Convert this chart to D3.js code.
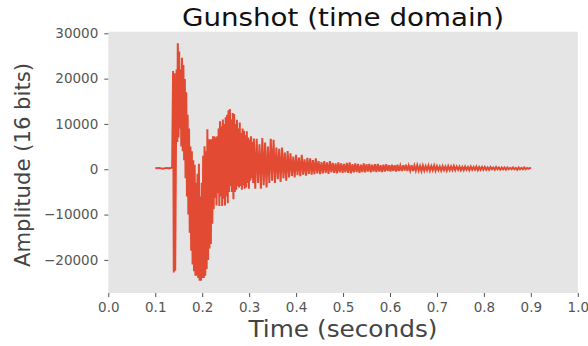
<!DOCTYPE html>
<html>
<head>
<meta charset="utf-8">
<script src="https://cdn.jsdelivr.net/npm/d3@7"></script>
<style>
  body { margin: 0; background: #ffffff; }
  text { font-family: "DejaVu Sans", sans-serif; }
</style>
</head>
<body>
<div id="chart"></div>
<script>
var width = 588
var height = 346

var chartTitle = "Gunshot (time domain)"
var xLabel = "Time (seconds)"
var yLabel = "Amplitude (16 bits)"

var xTicks = [0.0, 0.1, 0.2, 0.3, 0.4, 0.5, 0.6, 0.7, 0.8, 0.9, 1.0]
var yTicks = [-20000, -10000, 0, 10000, 20000, 30000]

// [time in seconds, amplitude] (peaks and troughs)
var samples = [
  [0.100, 200], [0.108, 300], [0.116, 100], [0.124, 300], [0.130, 200], [0.136, 400],
  [0.1380, 21700], [0.1395, -22800], [0.1410, 21200], [0.1425, -22400], [0.1440, 3000],
  [0.1455, 22000], [0.1470, 6000], [0.1480, 27800], [0.1495, 7000], [0.1510, 26000],
  [0.1525, 9000], [0.1540, 22000], [0.1555, 5000], [0.1570, 24600], [0.1585, 4000],
  [0.1600, 23000], [0.1615, 2000], [0.1630, 19900], [0.1645, -2000], [0.1660, 17000],
  [0.1675, -6000], [0.1690, 12000], [0.1705, -10000], [0.1720, 9000], [0.1735, -14000],
  [0.1750, 5000], [0.1765, -18000], [0.1780, 4000], [0.1795, -21000], [0.1810, 2000],
  [0.1825, -22500], [0.1840, 1000], [0.1855, -23500], [0.1870, -3000], [0.1885, -23500],
  [0.1900, -1000], [0.1915, -24000], [0.1930, 1200], [0.1945, -24600], [0.1960, -6000],
  [0.1975, -24600], [0.1990, -3000], [0.2005, -24000], [0.2020, 3000], [0.2035, -24000],
  [0.2050, 5100], [0.2065, -23500], [0.2080, 4000], [0.2095, -22000], [0.2110, 8800],
  [0.2125, -20000], [0.2140, 6600], [0.2155, -17500], [0.2170, 6600], [0.2185, -16500],
  [0.2200, 6600], [0.2215, -12000], [0.2230, 7300], [0.2245, -8800], [0.2260, 7300],
  [0.2275, -6300], [0.2290, 7000], [0.2305, -8000], [0.2320, 7300], [0.2335, -5300],
  [0.2350, 9000], [0.2365, -8100], [0.2380, 10600], [0.2395, -6000], [0.2410, 9500],
  [0.2425, -8100], [0.2440, 11000], [0.2455, -6500], [0.2470, 10000], [0.2485, -8000],
  [0.2500, 11500], [0.2515, -6000], [0.2530, 12000], [0.2545, -7500], [0.2560, 13000],
  [0.2575, -5000], [0.2590, 13300], [0.2605, -3700], [0.2620, 11000], [0.2635, -5000],
  [0.2650, 12400], [0.2665, -6600], [0.2680, 12200], [0.2695, -5000], [0.2710, 10000],
  [0.2725, -4500], [0.2740, 10900], [0.2755, -3700], [0.2770, 9000], [0.2785, -4000],
  [0.2800, 10300], [0.2815, -3700], [0.2830, 8000], [0.2845, -4500], [0.2860, 9000],
  [0.2875, -3500], [0.2890, 8500], [0.2905, -4300], [0.2920, 7500], [0.2935, -4000],
  [0.2950, 8400], [0.2965, -3000], [0.2980, 7000], [0.2995, -4300], [0.3010, 6500],
  [0.3025, -2500], [0.3040, 7300], [0.3055, -2000], [0.3070, 6000], [0.3085, -3000],
  [0.310, 6800], [0.313, -4300], [0.316, 6700], [0.319, -3000], [0.322, 5500],
  [0.325, -4300], [0.328, 6900], [0.331, -3500], [0.334, 5900], [0.337, -4000],
  [0.340, 5000], [0.343, -3000], [0.346, 6700], [0.349, -2500], [0.352, 6500],
  [0.355, -3000], [0.358, 4800], [0.361, -2200], [0.364, 4500], [0.367, -2800],
  [0.370, 4800], [0.373, -2000], [0.376, 3700], [0.379, -2500], [0.382, 4000],
  [0.385, -1800], [0.388, 3500], [0.391, -1500], [0.394, 2800], [0.397, -1800],
  [0.400, 3200], [0.403, -1300], [0.406, 2600], [0.409, -1500], [0.412, 3200],
  [0.415, -1200], [0.418, 2200], [0.421, -1400], [0.424, 2500], [0.427, -1000],
  [0.430, 2400], [0.433, -1200], [0.436, 2000], [0.439, -1100], [0.442, 2400],
  [0.445, -900], [0.448, 1800], [0.451, -1100], [0.454, 1600], [0.457, -900],
  [0.460, 1800], [0.463, -800], [0.466, 1500], [0.469, -1000], [0.472, 1800],
  [0.475, -700], [0.478, 1400], [0.481, -800], [0.484, 1300], [0.487, -900],
  [0.490, 1500], [0.493, -700], [0.496, 1300], [0.499, -800],
  [0.502, 1200], [0.505, -700], [0.508, 1400], [0.511, -800], [0.514, 1500],
  [0.517, -900], [0.520, 1100], [0.523, -700], [0.526, 1300], [0.529, -600],
  [0.532, 1200], [0.535, -800], [0.538, 1000], [0.541, -600], [0.544, 1300],
  [0.547, -700], [0.550, 1100], [0.553, -500], [0.556, 1200], [0.559, -700],
  [0.562, 1000], [0.565, -500], [0.568, 1100], [0.571, -600], [0.574, 1200],
  [0.577, -500], [0.580, 900], [0.583, -600], [0.586, 1000], [0.589, -500],
  [0.592, 1100], [0.595, -400], [0.598, 900], [0.601, -500], [0.604, 1000],
  [0.607, -400], [0.610, 900], [0.613, -500], [0.616, 1000], [0.619, -400],
  [0.622, 800], [0.625, -400], [0.628, 900], [0.631, -300], [0.634, 1000],
  [0.637, -400], [0.640, 800], [0.643, -300], [0.646, 900], [0.649, -400],
  [0.652, 800], [0.655, -300], [0.658, 900], [0.661, -300], [0.664, 700],
  [0.667, -400], [0.670, 800], [0.673, -300], [0.676, 700], [0.679, -200],
  [0.682, 800], [0.685, -300], [0.688, 700], [0.691, -200], [0.694, 800],
  [0.697, -300], [0.700, 700], [0.703, -200], [0.706, 600], [0.709, -300],
  [0.712, 700], [0.715, -200], [0.718, 600], [0.721, -300], [0.724, 700],
  [0.727, -200], [0.730, 600], [0.733, -200], [0.736, 700], [0.739, -200],
  [0.742, 600], [0.745, -100], [0.748, 600], [0.751, -200], [0.754, 500],
  [0.757, -200], [0.760, 600], [0.763, -100], [0.766, 500], [0.769, -200],
  [0.772, 600], [0.775, -100], [0.778, 500], [0.781, -100], [0.784, 600],
  [0.787, -200], [0.790, 500], [0.793, -100], [0.796, 500], [0.799, -100],
  [0.802, 500], [0.805, -100], [0.808, 400], [0.811, -100], [0.814, 500],
  [0.817, 0], [0.820, 400], [0.823, -100], [0.826, 500], [0.829, 0],
  [0.832, 400], [0.835, -100], [0.838, 400], [0.841, 0], [0.844, 400],
  [0.847, -100], [0.850, 400], [0.853, 0], [0.856, 300], [0.859, 0],
  [0.862, 400], [0.865, 0], [0.868, 300], [0.871, -100], [0.874, 400],
  [0.877, 0], [0.880, 300], [0.883, 0], [0.886, 400], [0.889, 0],
  [0.892, 300], [0.895, 100], [0.898, 300], [0.900, 100]
]

var plot = { left: 108.3, right: 577.8, top: 31.7, bottom: 293 }

var svg = d3.select("#chart")
  .append("svg")
    .attr("width", width)
    .attr("height", height)

// grey panel (ggplot style)
svg.append("rect")
  .attr("x", plot.left)
  .attr("y", plot.top)
  .attr("width", plot.right - plot.left)
  .attr("height", plot.bottom - plot.top)
  .attr("fill", "#e5e5e5")

var x = d3.scaleLinear()
  .domain([0, 1])
  .range([plot.left, plot.right])

var y = d3.scaleLinear()
  .domain([-27300, 30350])
  .range([plot.bottom, plot.top])

var xAxis = svg.append("g")
  .attr("transform", `translate(0,${plot.bottom})`)
  .call(d3.axisBottom(x).tickValues(xTicks).tickFormat(d3.format(".1f")).tickSize(4).tickPadding(5))

var yAxis = svg.append("g")
  .attr("transform", `translate(${plot.left},0)`)
  .call(d3.axisLeft(y).tickValues(yTicks).tickFormat(d3.format("d")).tickSize(4).tickPadding(6))

svg.selectAll(".domain").remove()
svg.selectAll(".tick line").attr("stroke", "#555555")
svg.selectAll(".tick text")
  .attr("fill", "#555555")
  .style("font-size", "13.5px")
  .style("font-family", "DejaVu Sans")

// the waveform
var line = d3.line()
  .x(function(d) { return x(d[0]) })
  .y(function(d) { return y(d[1]) })

svg.append("path")
  .datum(samples)
  .attr("d", line)
  .attr("fill", "none")
  .attr("stroke", "#E24A33")
  .attr("stroke-width", 2)
  .attr("stroke-linejoin", "miter")

// titles
svg.append("text")
  .attr("x", 343)
  .attr("y", 26)
  .attr("text-anchor", "middle")
  .attr("textLength", 322)
  .attr("lengthAdjust", "spacingAndGlyphs")
  .style("font-size", "24.5px")
  .style("fill", "#111111")
  .text(chartTitle)

svg.append("text")
  .attr("x", 343)
  .attr("y", 337)
  .attr("text-anchor", "middle")
  .attr("textLength", 189)
  .attr("lengthAdjust", "spacingAndGlyphs")
  .style("font-size", "23px")
  .style("fill", "#444444")
  .text(xLabel)

svg.append("text")
  .attr("transform", "translate(30,165) rotate(-90)")
  .attr("text-anchor", "middle")
  .attr("textLength", 204)
  .attr("lengthAdjust", "spacingAndGlyphs")
  .style("font-size", "22px")
  .style("fill", "#444444")
  .text(yLabel)
</script>
</body>
</html>
